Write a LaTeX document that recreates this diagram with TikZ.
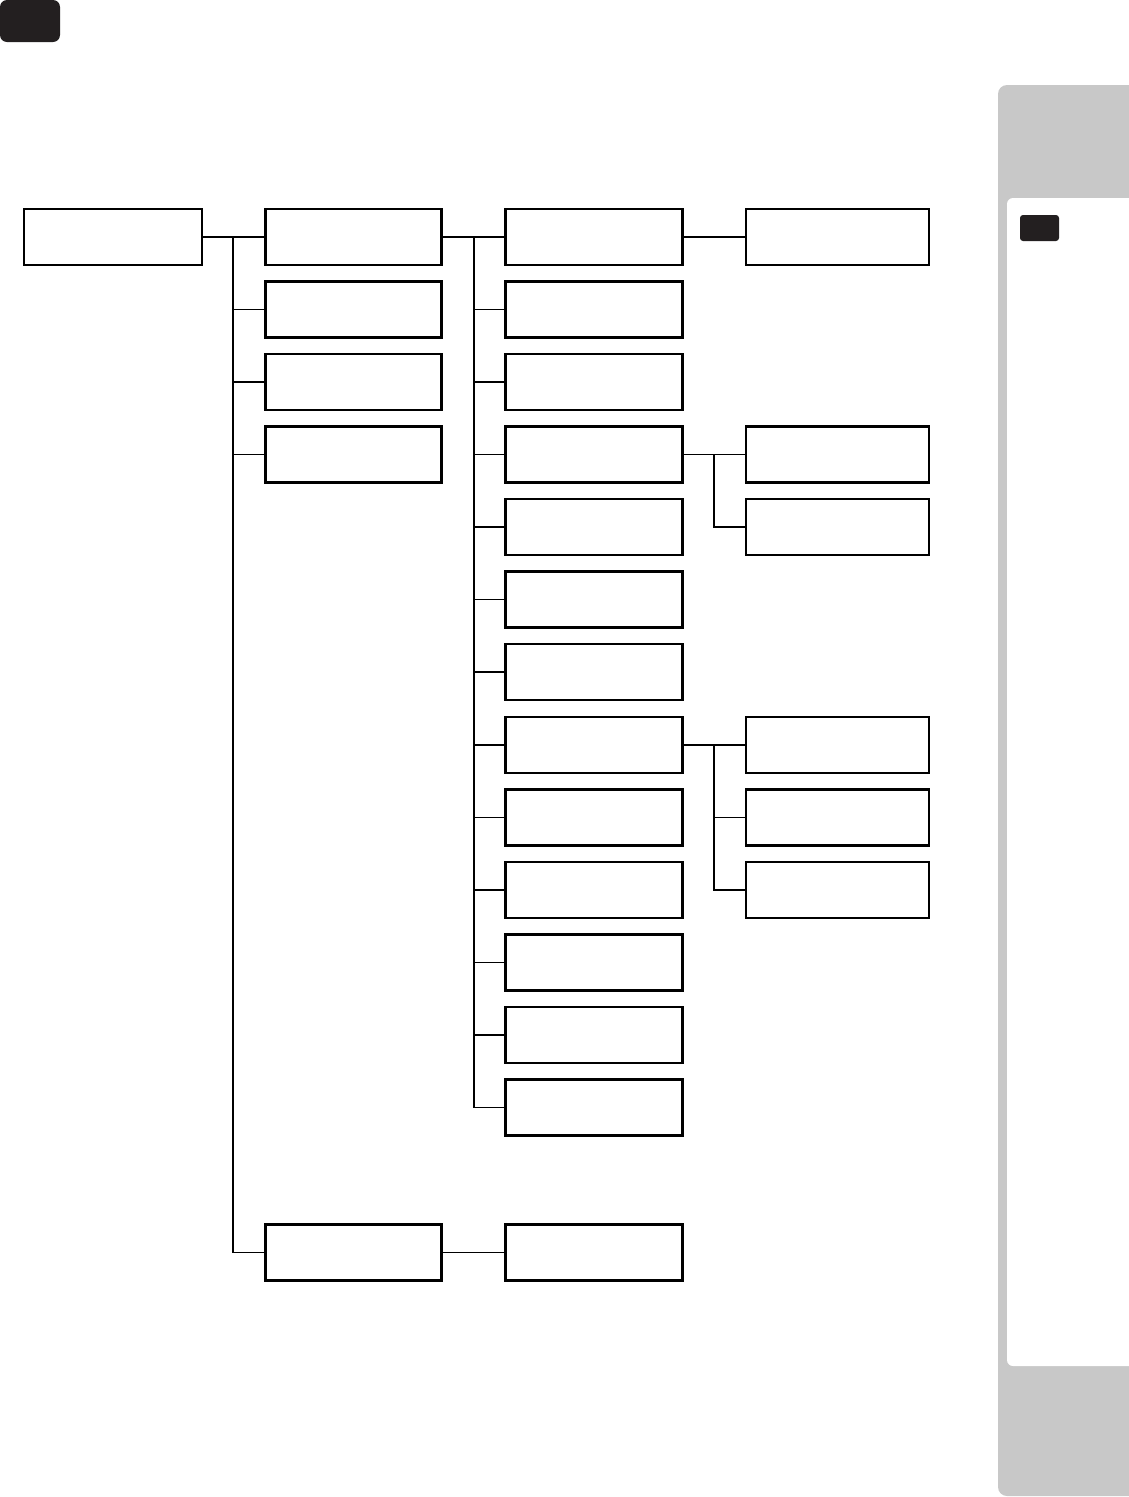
\documentclass[tikz,border=0pt]{standalone}
\definecolor{tabblack}{HTML}{231F20}
\definecolor{panelgray}{HTML}{C8C8C8}
\begin{document}
\begin{tikzpicture}[x=1pt,y=-1pt,
  box/.style={draw=black,line width=2.6pt,rectangle,minimum height=56pt,inner sep=0pt},
  boxa/.style={box,minimum width=178pt},
  boxb/.style={box,minimum width=176pt},
  boxc/.style={box,minimum width=177pt},
  boxd/.style={box,minimum width=183pt},
  link/.style={line width=1.9pt}]
\useasboundingbox (0,0) rectangle (1129,1497);
% decorations
\fill[tabblack,rounded corners=7pt] (0,0) rectangle (60,42);
\fill[panelgray,rounded corners=9pt] (998,85) rectangle (1160,1496);
\fill[white,rounded corners=6pt] (1007,198) rectangle (1160,1366);
\fill[tabblack,rounded corners=3pt] (1020,215) rectangle (1059,241);
% column 0
\node[boxa] (root) at (113,237) {};
% column 1
\node[boxb] (a0) at (353.5,237) {};
\node[boxb] (a1) at (353.5,309.5) {};
\node[boxb] (a2) at (353.5,382) {};
\node[boxb] (a3) at (353.5,454.5) {};
\node[boxb] (a4) at (353.5,1252.5) {};
% column 2
\foreach \i/\y in {0/237,1/309.5,2/382,3/454.5,4/527,5/599.5,6/672,7/745,8/817.5,9/890,10/962.5,11/1035,12/1107.5}
  \node[boxc] (b\i) at (594,\y) {};
\node[boxc] (bz) at (594,1252.5) {};
% column 3
\node[boxd] (c0) at (837.5,237) {};
\node[boxd] (c1) at (837.5,454.5) {};
\node[boxd] (c2) at (837.5,527) {};
\node[boxd] (c3) at (837.5,745) {};
\node[boxd] (c4) at (837.5,817.5) {};
\node[boxd] (c5) at (837.5,890) {};
% trunk coordinates
\coordinate (t1) at (233,0);
\coordinate (t2) at (474,0);
\coordinate (t3) at (714,0);
% connectors col0 -> col1
\draw[link] (root.east) -- (a0.west);
\draw[link] (a0.west -| t1) -- (a4.west -| t1);
\foreach \n in {1,2,3,4} \draw[link] (a\n.west -| t1) -- (a\n.west);
% connectors col1 -> col2
\draw[link] (a0.east) -- (b0.west);
\draw[link] (b0.west -| t2) -- (b12.west -| t2);
\foreach \n in {1,...,12} \draw[link] (b\n.west -| t2) -- (b\n.west);
\draw[link] (a4.east) -- (bz.west);
% connectors col2 -> col3
\draw[link] (b0.east) -- (c0.west);
\draw[link] (b3.east) -- (c1.west);
\draw[link] (c1.west -| t3) |- (c2.west);
\draw[link] (b7.east) -- (c3.west);
\draw[link] (c3.west -| t3) |- (c5.west);
\draw[link] (c4.west -| t3) -- (c4.west);
\end{tikzpicture}
\end{document}
